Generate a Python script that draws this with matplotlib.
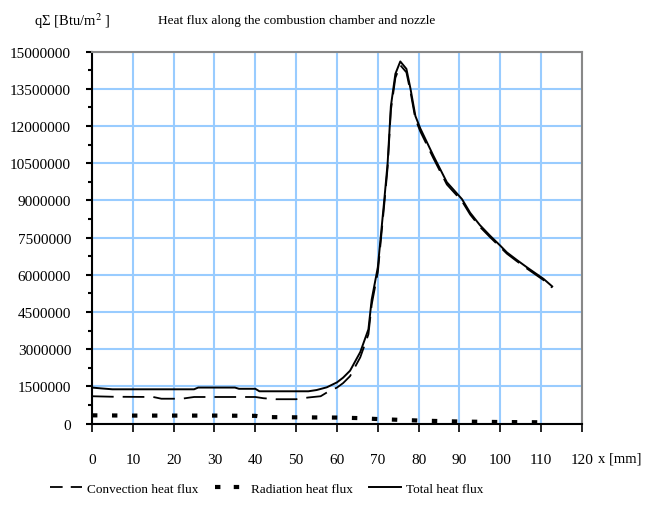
# Heat flux along the combustion chamber and nozzle
import matplotlib.pyplot as plt
from matplotlib.lines import Line2D
from matplotlib.ticker import MultipleLocator

plt.rcParams['font.family'] = ['Liberation Serif', 'DejaVu Serif']
plt.rcParams['mathtext.fontset'] = 'stix'

# Total heat flux
x_total = [0, 2, 5, 15, 25, 26, 35, 36, 40, 41, 50, 53, 55, 57.5, 60, 61.5, 63.2, 65.7,
           67.7, 68.5, 70, 71.6, 72.4, 73.2, 74.3, 75.5, 77, 78, 79.2, 80.4, 83.6,
           86.9, 90.6, 92.6, 95, 97.5, 100, 101.6, 104, 106.5, 110.6, 112.7]
q_total = [1.45e6, 1.42e6, 1.38e6, 1.38e6, 1.38e6, 1.45e6, 1.45e6, 1.4e6, 1.4e6, 1.3e6,
           1.3e6, 1.3e6, 1.35e6, 1.46e6, 1.66e6, 1.85e6, 2.13e6, 2.88e6,
           3.8e6, 5.0e6, 6.3e6, 9.05e6, 10.5e6, 12.8e6, 14.1e6, 14.6e6, 14.3e6, 13.5e6,
           12.4e6, 11.9e6, 10.8e6, 9.73e6, 9.05e6, 8.5e6, 8.0e6, 7.57e6, 7.17e6, 6.9e6,
           6.6e6, 6.3e6, 5.83e6, 5.53e6]

# Radiation heat flux
x_rad = [0, 10, 20, 30, 40, 42, 50, 60, 65, 70, 75, 80, 85, 90, 100, 110]
q_rad = [0.33e6, 0.32e6, 0.32e6, 0.32e6, 0.31e6, 0.26e6, 0.25e6, 0.24e6, 0.22e6,
         0.18e6, 0.15e6, 0.12e6, 0.1e6, 0.08e6, 0.06e6, 0.05e6]

# Convection heat flux
x_conv = [0, 5, 15, 17, 22, 25, 40, 42, 45, 50, 53, 56, 58, 60, 61.5, 63.2, 65.7,
          67.7, 68.5, 70, 71.6, 72.4, 73.2, 74.3, 75.5, 77, 78, 79.2, 80.4, 83.6,
          86.9, 90.6, 92.6, 95, 97.5, 100, 101.6, 104, 106.5, 110.6, 112.7]
q_conv = [1.1e6, 1.08e6, 1.07e6, 1.0e6, 1.0e6, 1.07e6, 1.07e6, 1.02e6, 0.98e6, 0.98e6,
          1.05e6, 1.1e6, 1.3e6, 1.45e6, 1.63e6, 1.91e6, 2.67e6,
          3.6e6, 4.8e6, 6.1e6, 8.88e6, 10.33e6, 12.64e6, 13.94e6, 14.45e6, 14.16e6, 13.37e6,
          12.28e6, 11.78e6, 10.7e6, 9.64e6, 8.97e6, 8.43e6, 7.93e6, 7.51e6, 7.11e6, 6.85e6,
          6.55e6, 6.25e6, 5.78e6, 5.48e6]

series_labels = ['Convection heat flux', 'Radiation heat flux', 'Total heat flux']
x_ticks = list(range(0, 121, 10))
y_ticks = list(range(0, 15000001, 1500000))

fig = plt.figure(figsize=(6.51, 5.10), dpi=100)
ax = fig.add_axes([0.1413, 0.1676, 0.7527, 0.7294])

grid_blue = '#99ccff'
ax.set_xlim(0, 120)
ax.set_ylim(0, 15000000)
ax.set_xticks(x_ticks)
ax.set_yticks(y_ticks)
ax.set_yticklabels([str(v) for v in y_ticks])
ax.yaxis.set_minor_locator(MultipleLocator(750000))
ax.grid(True, which='major', color=grid_blue, linewidth=1.5)
ax.set_axisbelow(True)

ax.plot(x_conv, q_conv, color='black', linewidth=1.3, linestyle=(0, (12, 5)))
ax.plot(x_rad, q_rad, color='black', linewidth=3, linestyle=(0, (1.3, 3.5)))
ax.plot(x_total, q_total, color='black', linewidth=1.4)

for side in ['top', 'right']:
    ax.spines[side].set_color('#888888')
    ax.spines[side].set_linewidth(1.5)
ax.spines['left'].set_linewidth(1.5)
ax.spines['bottom'].set_linewidth(1.5)

ax.tick_params(axis='x', direction='out', length=6, width=1.2, pad=15, labelsize=11)
ax.tick_params(axis='y', which='major', direction='out', length=4, width=1.5, pad=11, labelsize=11)
ax.tick_params(axis='y', which='minor', direction='out', length=3, width=1.5)

fig.text(0.455, 0.958, 'Heat flux along the combustion chamber and nozzle',
         ha='center', va='center', fontsize=9.5)
fig.text(0.052, 0.958, 'q\u03a3 [Btu/m$^{2}$ ]', ha='left', va='center', fontsize=10.5)
fig.text(0.918, 0.1, 'x [mm]', ha='left', va='center', fontsize=10.5)

# legend handles with shorter dash patterns, as in the reference legend
handles = [
    Line2D([], [], color='black', linewidth=1.3, linestyle=(0, (7, 4.5))),
    Line2D([], [], color='black', linewidth=3, linestyle=(0, (1.3, 3.2))),
    Line2D([], [], color='black', linewidth=1.4),
]
fig.legend(handles, series_labels, loc='center', bbox_to_anchor=(0.41, 0.04), ncol=3,
           frameon=False, fontsize=9.5, handlelength=2.4, columnspacing=1.2,
           handletextpad=0.4)

fig.savefig('out.png', dpi=100)
